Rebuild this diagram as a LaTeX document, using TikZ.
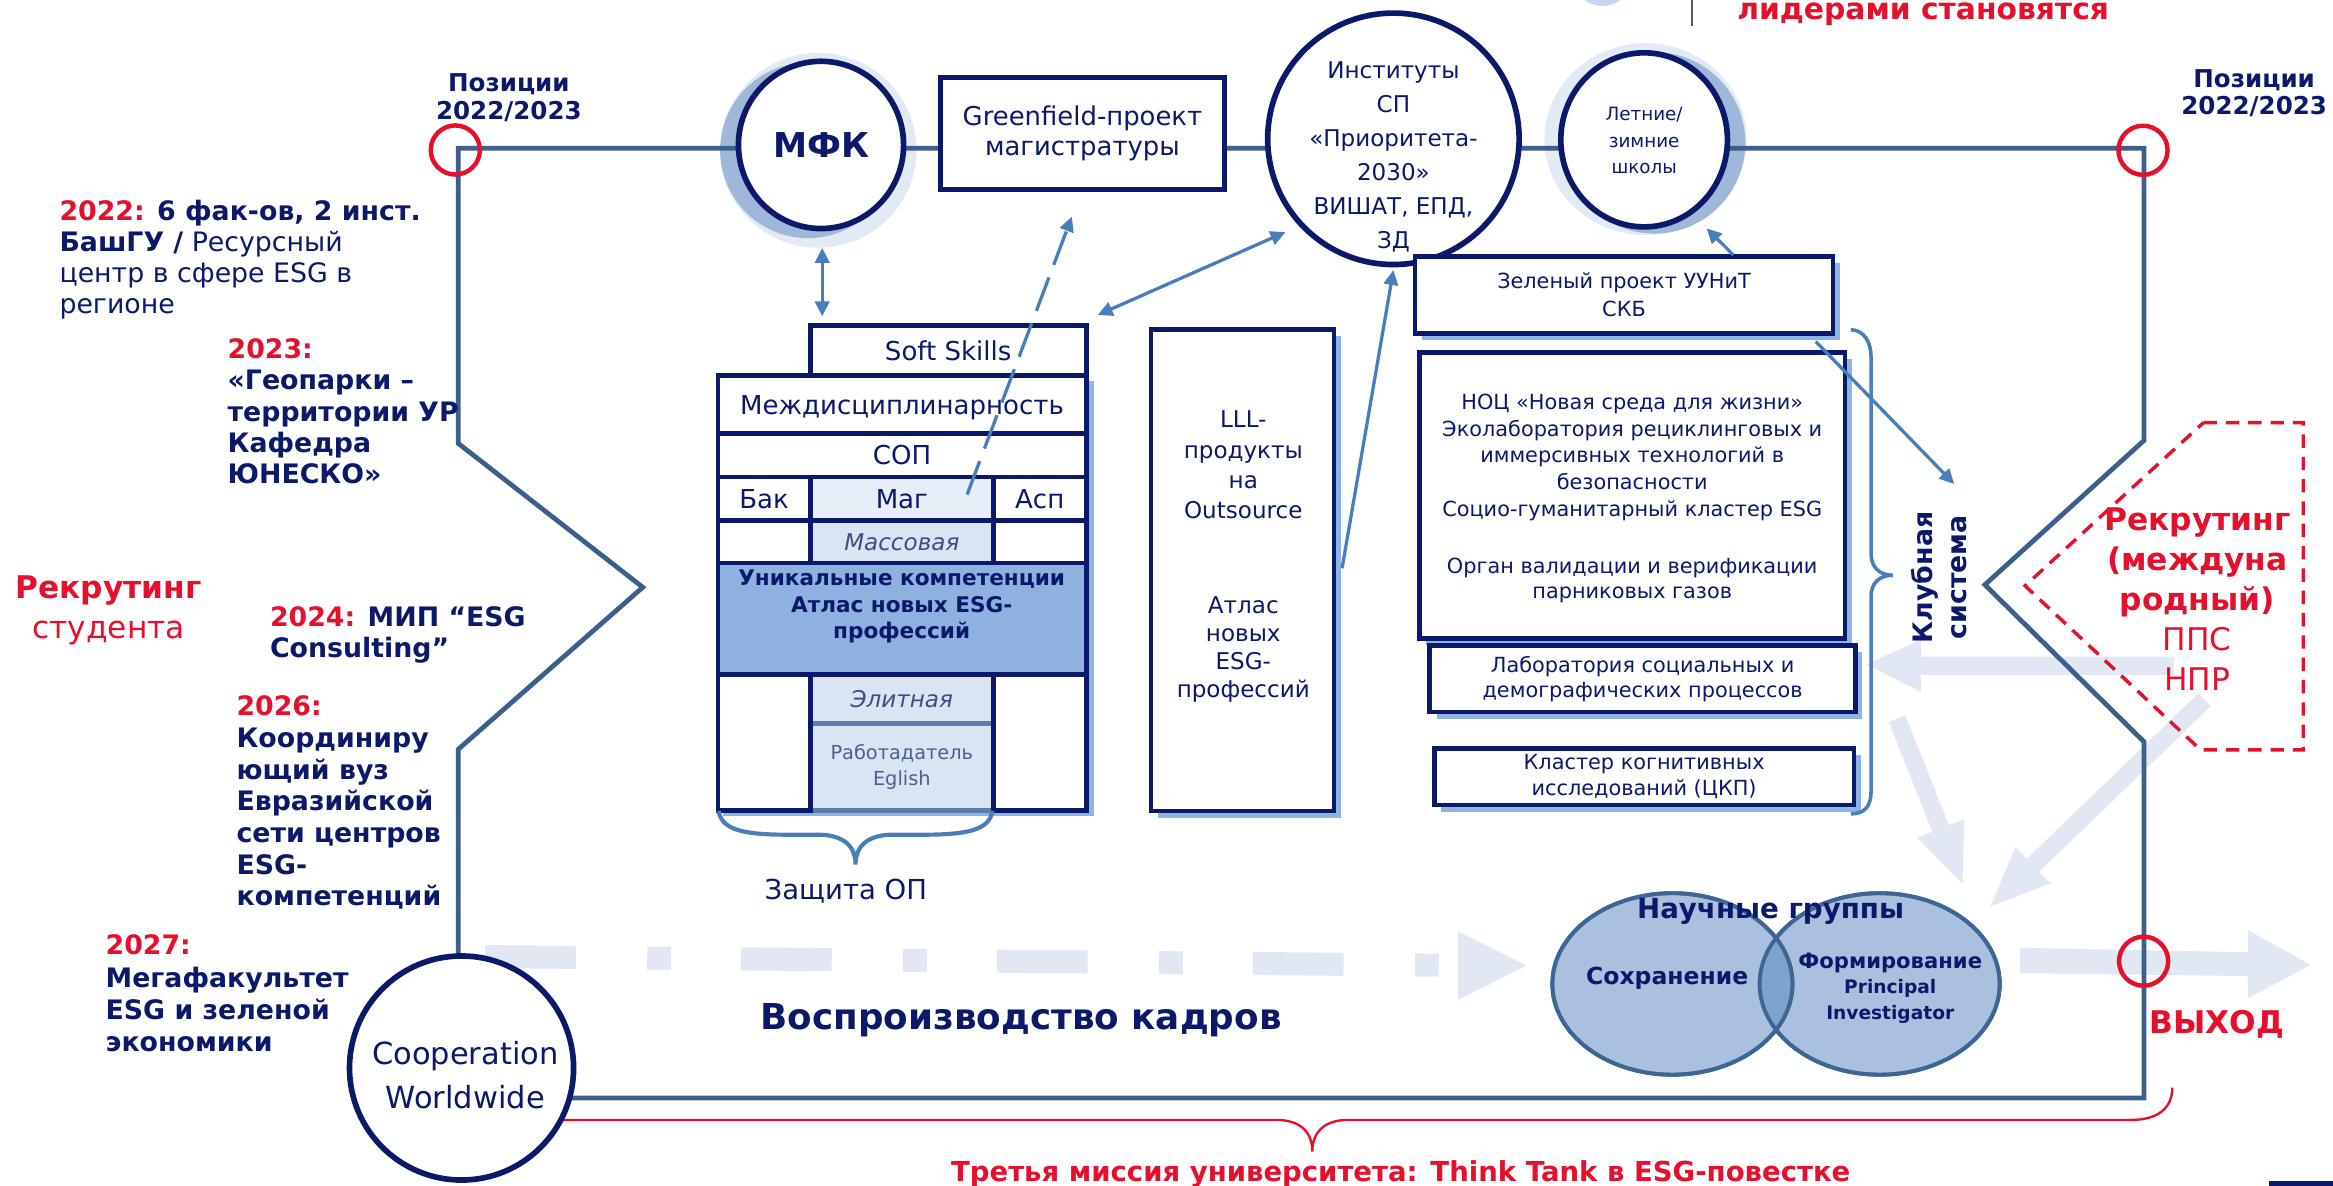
\documentclass[tikz,border=0pt]{standalone}
\usepackage{fontspec}
\setmainfont{DejaVu Sans}
\usetikzlibrary{shapes.geometric,arrows.meta,shadows,calc}
\definecolor{navy}{HTML}{0C196B}
\definecolor{framec}{HTML}{3D5F8D}
\definecolor{redc}{HTML}{E5102C}
\definecolor{arrc}{HTML}{4A7EBB}
\definecolor{shadc}{HTML}{8DB4E2}
\definecolor{lightarr}{HTML}{E1E8F3}
\definecolor{magfill}{HTML}{E8EEF7}
\definecolor{cellfill}{HTML}{DAE5F3}
\definecolor{uniqfill}{HTML}{8EB1DF}
\definecolor{vennfill}{HTML}{A9C0DF}
\definecolor{vennline}{HTML}{3E6594}
\definecolor{lensfill}{HTML}{7DA3CE}
\definecolor{halolight}{HTML}{E2EAF5}
\definecolor{halomid}{HTML}{9FB8DA}
\definecolor{halotop}{HTML}{C5D8EE}
\definecolor{softtext}{HTML}{3E4C85}
\definecolor{rabtext}{HTML}{4D5F8E}
\definecolor{divc}{HTML}{5A7DB4}
\newcommand{\fz}[2]{\fontsize{#1pt}{#2pt}\selectfont}
\begin{document}
\begin{tikzpicture}[x=1pt,y=-1pt,
  txt/.style={inner sep=0pt, outer sep=0pt, text=navy},
  boxn/.style={rectangle, draw=navy, line width=3.2pt, fill=white, inner sep=0pt, outer sep=0pt},
  shad/.style={drop shadow={shadow xshift=4.5pt, shadow yshift=-4.5pt, fill=shadc, opacity=1}},
  circn/.style={ellipse, draw=navy, line width=3.8pt, fill=white, inner sep=0pt, outer sep=0pt},
  redring/.style={circle, draw=redc, line width=3pt, inner sep=0pt, outer sep=0pt, minimum size=33pt},
  thinarrow/.style={draw=arrc, line width=2.2pt},
  >={Triangle[length=10pt,width=9.5pt]},
  venn/.style={ellipse, draw=vennline, line width=2.6pt, fill=vennfill, inner sep=0pt, outer sep=0pt, minimum width=161.4pt, minimum height=122pt},
  celltxt/.style={font=\fz{17.5}{20}, text=navy, text depth=0pt}
]
\useasboundingbox (0,0) rectangle (1568,797);

% ---------- light background arrows ----------
\fill[lightarr] (980,626) -- (1026,649) -- (980,672) -- cycle;
\draw[lightarr, line width=15.5pt, dash pattern=on 61pt off 48pt on 16pt off 47pt] (326,642.9) -- (969.5,648.7);
\fill[lightarr] (1357.5,637) -- (1510.7,640) -- (1510.7,625) -- (1553,648.5) -- (1510.7,671) -- (1510.7,656) -- (1357.5,654) -- cycle;
\fill[lightarr] (1461,441.3) -- (1291,441.3) -- (1291,430) -- (1254,446.5) -- (1291,465) -- (1291,453.6) -- (1461,453.6) -- cycle;
\fill[lightarr] (1269.4,485.2) -- (1298.7,559.0) -- (1288.5,563.1) -- (1319,594) -- (1320.1,550.5) -- (1309.9,554.6) -- (1280.6,480.8) -- cycle;
\fill[lightarr] (1477.4,466.1) -- (1362.2,577.2) -- (1354.6,569.3) -- (1337.6,609.3) -- (1378.2,593.7) -- (1370.6,585.8) -- (1485.8,474.7) -- cycle;

% ---------- halos ----------
\fill[halolight] (550,101) ellipse [x radius=66pt, y radius=65.5pt];
\fill[halomid] (543,101) ellipse [x radius=59pt, y radius=59pt];
\fill[halolight] (1106,93.5) ellipse [x radius=68pt, y radius=64.5pt];
\fill[halomid] (1112,96) ellipse [x radius=61pt, y radius=61pt];
\fill[halotop] (1077,-20) ellipse [x radius=22pt, y radius=24pt];
\draw[black!65, line width=1.5pt] (1137,-2) -- (1137,17.5);

% ---------- frame ----------
\draw[framec, line width=3.2pt] (308,99.6) -- (1441,99.6) -- (1441,296) -- (1334,393) -- (1441,498.6) -- (1441,738) -- (308,738) -- (308,503.6) -- (432,394.7) -- (308,298) -- cycle;

% ---------- red bracket ----------
\draw[redc, line width=1.6pt] (370,752.7) -- (858,752.7) .. controls (873,752.7) and (882,760) .. (882,774) .. controls (882,760) and (891,752.7) .. (906,752.7) -- (1432,752.7) .. controls (1450,752.7) and (1460,745) .. (1460,731);

% ---------- red rings ----------
\node[redring] (ring1) at (306,100.8) {};
\node[redring] (ring2) at (1440.3,101) {};
\node[redring] (ring3) at (1440.7,646) {};

% ---------- red dashed pentagon ----------
\draw[redc, line width=2.3pt, dash pattern=on 9pt off 6pt] (1481,284) -- (1548,284) -- (1548,504) -- (1479,504) -- (1361,393.7) -- cycle;

% ---------- top row ----------
\node[circn, minimum width=111pt, minimum height=112.4pt, font=\bfseries\fz{23}{26}, text=navy] (mfk) at (551.8,97.4) {МФК};
\node[boxn, minimum width=191pt, minimum height=75.2pt, align=center, font=\fz{17.4}{20.6}, text=navy] (green) at (727.5,89.6) {Greenfield-проект\\магистратуры};
\node[circn, minimum size=169pt] (inst) at (936.5,93.3) {};
\node[txt, anchor=base, align=center, font=\fz{15.5}{22.8}] (instt) at (936.5,166.7) {Институты\\СП\\«Приоритета-\\2030»\\ВИШАТ, ЕПД,\\ЗД};
\node[circn, minimum width=112pt, minimum height=117pt] (letn) at (1105,94) {};
\node[txt, anchor=base, align=center, font=\fz{12.3}{17.7}] (letnt) at (1105,116.5) {Летние/\\зимние\\школы};
\node[circn, minimum size=150.6pt] (coop) at (310.2,717.8) {};
\node[txt, anchor=base, align=center, font=\fz{20.5}{29}] (coopt) at (312.7,744.7) {Cooperation\\Worldwide};

% ---------- education stack ----------
\fill[shadc] (486,256) rectangle (735.5,548.5);
\node[boxn, celltxt, minimum width=185.4pt, minimum height=34pt] (soft) at (637.3,235.6) {Soft Skills};
\node[boxn, celltxt, minimum width=247.5pt, minimum height=38.6pt] (mezh) at (606.25,271.9) {Междисциплинарность};
\node[boxn, celltxt, minimum width=247.5pt, minimum height=29.4pt] (sop) at (606.25,305.9) {СОП};
\node[boxn, celltxt, minimum width=62.1pt, minimum height=29pt] (bak) at (513.55,335.1) {Бак};
\node[boxn, celltxt, fill=magfill, minimum width=123pt, minimum height=29pt] (mag) at (606.1,335.1) {Маг};
\node[boxn, celltxt, minimum width=62.4pt, minimum height=29pt] (asp) at (698.8,335.1) {Асп};
\node[boxn, minimum width=62.1pt, minimum height=28.8pt] (ea) at (513.55,364) {};
\node[boxn, fill=cellfill, minimum width=123pt, minimum height=28.8pt, font=\itshape\fz{15.5}{18}, text=softtext, text depth=0pt] (mass) at (606.1,364) {Массовая};
\node[boxn, minimum width=62.4pt, minimum height=28.8pt] (eb) at (698.8,364) {};
\node[rectangle, fill=cellfill, inner sep=0pt, outer sep=0pt, minimum width=123pt, minimum height=33.2pt, font=\itshape\fz{15.5}{18}, text=softtext, text depth=0pt] (elit) at (606.1,469.9) {Элитная};
\node[rectangle, fill=cellfill, inner sep=0pt, outer sep=0pt, minimum width=123pt, minimum height=58.1pt, align=center, font=\fz{13}{17.6}, text=rabtext] (rabot) at (606.1,515.55) {Работадатель\\Eglish};
\draw[divc, line width=3.5pt] (elit.south west) -- (elit.south east);
\draw[divc, line width=3pt] (rabot.south west) -- (rabot.south east);
\node[boxn, minimum width=62.1pt, minimum height=91.3pt] (ec) at (513.55,498.95) {};
\node[boxn, minimum width=62.4pt, minimum height=91.3pt] (ed) at (698.8,498.95) {};
\node[boxn, fill=uniqfill, minimum width=247.5pt, minimum height=74.9pt] (uniq) at (606.25,415.85) {};
\node[txt, anchor=base, align=center, font=\bfseries\fz{14.5}{17.7}] (uniqt) at (606,429.1) {Уникальные компетенции\\Атлас новых ESG-\\профессий};

% ---------- LLL ----------
\node[boxn, shad, minimum width=123pt, minimum height=323.4pt] (lll) at (835,383.3) {};
\node[txt, anchor=base, align=center, font=\fz{15.5}{20.4}] (lllt1) at (835.6,348.8) {LLL-\\продукты\\на\\Outsource};
\node[txt, anchor=base, align=center, font=\fz{15.5}{18.8}] (lllt2) at (835.6,469) {Атлас\\новых\\ESG-\\профессий};

% ---------- right boxes ----------
\node[boxn, shad, minimum width=281pt, minimum height=51.5pt, align=center, font=\fz{14}{18.6}, text=navy] (zel) at (1091.5,198.25) {Зеленый проект УУНиТ\\СКБ};
\node[boxn, shad, minimum width=286pt, minimum height=192pt] (noc) at (1097,333) {};
\node[txt, anchor=base, align=center, font=\fz{14}{18}] (noct1) at (1097,347.1) {НОЦ «Новая среда для жизни»\\Эколаборатория рециклинговых и\\иммерсивных технологий в\\безопасности\\Социо-гуманитарный кластер ESG};
\node[txt, anchor=base, align=center, font=\fz{14}{16.8}] (noct2) at (1097,402.2) {Орган валидации и верификации\\парниковых газов};
\node[boxn, shad, minimum width=286pt, minimum height=44.6pt, align=center, font=\fz{14}{17.2}, text=navy] (lab) at (1104,456.3) {Лаборатория социальных и\\демографических процессов};
\node[boxn, shad, minimum width=282pt, minimum height=38pt, align=center, font=\fz{14}{17.2}, text=navy] (klast) at (1105,522) {Кластер когнитивных\\исследований (ЦКП)};
\node[txt, rotate=90, align=center, font=\bfseries\fz{18}{23}] (klub) at (1303,388) {Клубная\\система};

% ---------- braces ----------
\draw[arrc, line width=2.8pt] (483,545) .. controls (485,558) and (500,561) .. (530,561) -- (550,561) .. controls (566,561) and (575,568) .. (575,581) .. controls (575,568) and (584,561) .. (600,561) -- (620,561) .. controls (650,561) and (665,558) .. (667,545);
\draw[arrc, line width=2.4pt] (1244,221.6) .. controls (1253,222) and (1257.5,230) .. (1257.5,240) -- (1257.5,372) .. controls (1257.5,381) and (1263,386.6) .. (1272,386.6) .. controls (1263,386.6) and (1257.5,392) .. (1257.5,401) -- (1257.5,532) .. controls (1257.5,542) and (1253,547) .. (1244,547);

% ---------- Venn ----------
\node[venn] (form) at (1263.3,661.3) {};
\node[venn] (sohr) at (1124,661.3) {};
\begin{scope}
\clip (1124,661.3) ellipse [x radius=80.7pt, y radius=61pt];
\fill[lensfill] (1263.3,661.3) ellipse [x radius=80.7pt, y radius=61pt];
\end{scope}
\draw[vennline, line width=2.6pt] (1263.3,661.3) ellipse [x radius=80.7pt, y radius=61pt];
\draw[vennline, line width=2.6pt] (1124,661.3) ellipse [x radius=80.7pt, y radius=61pt];
\node[txt, anchor=base, font=\bfseries\fz{18.6}{22}] (nauch) at (1190,617.2) {Научные группы};
\node[txt, anchor=base, font=\bfseries\fz{15.8}{19}] (sohrt) at (1120.5,662) {Сохранение};
\node[txt, anchor=base, font=\bfseries\fz{14.2}{17}] (formt) at (1270.4,650.8) {Формирование};
\node[txt, anchor=base, align=center, font=\bfseries\fz{12.5}{17.9}] (pit) at (1270.4,685.5) {Principal\\Investigator};

% ---------- thin arrows ----------
\draw[thinarrow, <->] ($(mfk.south)+(0.8,13)$) -- ($(mfk.south |- soft.north)+(0.8,-6)$);
\draw[thinarrow, ->, dash pattern=on 24pt off 9pt] ($(mag.east)+(-17.6,-2.7)$) -- ($(green.south)+(-7.1,18.4)$);
\draw[thinarrow, <->] ($(soft.north east)+(7.8,-6.9)$) -- ($(inst.center)+(-72.6,62.7)$);
\draw[thinarrow, ->] ($(lll.east)+(5.5,-1.4)$) -- ($(inst.center)+(0,88.2)$);
\draw[thinarrow, ->] ($(zel.north)+(73.5,-1.1)$) -- ($(letn.center)+(42,59.5)$);
\draw[thinarrow, ->] ($(zel.south east)+(-11.6,5.6)$) -- ($(klub.center)+(10.4,-62.7)$);

% ---------- texts ----------
\node[txt, anchor=base, align=center, font=\bfseries\fz{16.5}{18.4}] (pos1) at (342,80) {Позиции\\2022/2023};
\node[txt, anchor=base, align=center, font=\bfseries\fz{16.5}{18.4}] (pos2) at (1515,77.1) {Позиции\\2022/2023};
\node[txt, anchor=base, text=redc, font=\bfseries\fz{20}{24}] (lead) at (1292.5,13.4) {лидерами становятся};

\node[txt, anchor=base west, align=left, font=\fz{18}{20.8}] (y2022) at (40,210.4) {\textbf{\textcolor{redc}{2022:} 6 фак-ов, 2 инст.}\\\textbf{БашГУ /} Ресурсный\\центр в сфере ESG в\\регионе};
\node[txt, anchor=base west, align=left, font=\bfseries\fz{18}{21}] (y2023) at (153,325) {\textcolor{redc}{2023:}\\«Геопарки –\\территории УР\\Кафедра\\ЮНЕСКО»};
\node[txt, anchor=base, align=center, text=redc, font=\fz{21}{27}] (recl) at (73,429) {\textbf{Рекрутинг}\\студента};
\node[txt, anchor=base west, align=left, font=\bfseries\fz{18}{21}] (y2024) at (181.5,442) {\textcolor{redc}{2024:} МИП “ESG\\Consulting”};
\node[txt, anchor=base west, align=left, font=\bfseries\fz{18}{21.3}] (y2026) at (159,608.8) {\textcolor{redc}{2026:}\\Координиру\\ющий вуз\\Евразийской\\сети центров\\ESG-\\компетенций};
\node[txt, anchor=base west, align=left, font=\bfseries\fz{18}{21.7}] (y2027) at (71,706.9) {\textcolor{redc}{2027:}\\Мегафакультет\\ESG и зеленой\\экономики};

\node[txt, anchor=base, align=center, text=redc, font=\fz{21}{26.9}] (recr) at (1476.8,464.3) {\textbf{Рекрутинг}\\\textbf{(междуна}\\\textbf{родный)}\\ППС\\НПР};
\node[txt, anchor=base, font=\fz{18.5}{22}] (zash) at (568.5,604.8) {Защита ОП};
\node[txt, anchor=base, font=\bfseries\fz{24}{28}] (vospr) at (686.3,692.2) {Воспроизводство кадров};
\node[txt, anchor=base, text=redc, font=\bfseries\fz{21}{25}] (vyhod) at (1490,694.4) {ВЫХОД};
\node[txt, anchor=base, text=redc, font=\bfseries\fz{18.5}{22}] (third) at (941.4,794) {Третья миссия университета: Think Tank в ESG-повестке};
\fill[navy] (1525,794) rectangle (1570,800);
\end{tikzpicture}
\end{document}
